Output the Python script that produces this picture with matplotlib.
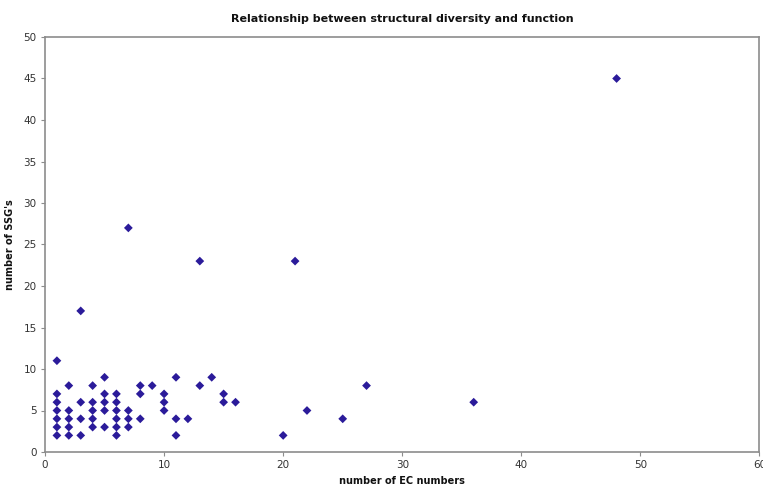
import matplotlib
matplotlib.use("Agg")
import matplotlib.pyplot as plt

ec_numbers = [1, 1, 1, 1, 1, 1, 1,
              2, 2, 2, 2, 2,
              3, 3, 3, 3,
              4, 4, 4, 4, 4,
              5, 5, 5, 5, 5,
              6, 6, 6, 6, 6, 6,
              7, 7, 7, 7,
              8, 8, 8,
              9,
              10, 10, 10,
              11, 11, 11,
              12,
              13, 13,
              14,
              15, 15,
              16,
              20, 21, 22, 25, 27, 36, 48]
ssgs = [11, 7, 6, 5, 4, 3, 2,
        8, 5, 4, 3, 2,
        17, 6, 4, 2,
        8, 6, 5, 4, 3,
        9, 7, 6, 5, 3,
        7, 6, 5, 4, 3, 2,
        27, 5, 4, 3,
        8, 7, 4,
        8,
        7, 6, 5,
        9, 4, 2,
        4,
        23, 8,
        9,
        7, 6,
        6,
        2, 23, 5, 4, 8, 6, 45]

x_ticks = [0, 10, 20, 30, 40, 50, 60]
y_ticks = [0, 5, 10, 15, 20, 25, 30, 35, 40, 45, 50]

W, H = 763, 491
fig = plt.figure(figsize=(W / 100, H / 100), dpi=100)
ax = fig.add_axes([45 / W, (H - 452) / H, (759.5 - 45) / W, (452 - 37) / H])

ax.scatter(ec_numbers, ssgs, marker="D", s=20, color="#2b1b9a", edgecolors="none", zorder=3)

ax.set_xlim(0, 60)
ax.set_ylim(0, 50)
ax.set_xticks(x_ticks)
ax.set_yticks(y_ticks)
for s in ax.spines.values():
    s.set_color("#8c8c8c")
    s.set_linewidth(1.2)
ax.tick_params(axis="both", direction="out", length=3, width=0.8, color="#8c8c8c",
               labelsize=7.5, labelcolor="#333333", pad=3)

ax.set_title("Relationship between structural diversity and function",
             fontsize=8, fontweight="bold", pad=11, color="#111111")
ax.set_xlabel("number of EC numbers", fontsize=7, fontweight="bold", labelpad=4, color="#111111")
ax.set_ylabel("number of SSG's", fontsize=7, fontweight="bold", labelpad=6, color="#111111")

fig.savefig("out.png", dpi=100)
